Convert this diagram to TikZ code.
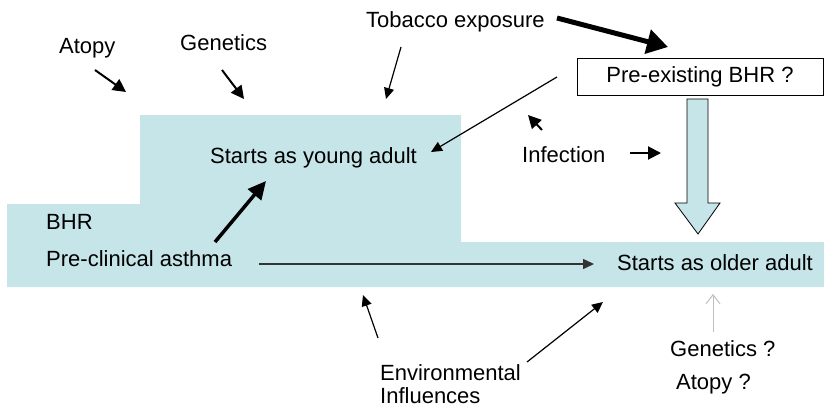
\documentclass[tikz,border=0pt]{standalone}
\usepackage{fontspec}
\setmainfont{Liberation Sans}
\usepackage{tikz}
\usetikzlibrary{arrows.meta}
\definecolor{paleblue}{RGB}{197,229,232}

\tikzset{
  lbl/.style={anchor=base west, inner sep=0pt, font=\fontsize{22}{25}\selectfont},
  thinarr/.style={line width=1.2pt, -{Triangle[length=11pt,width=10pt]}},
  midarr/.style={line width=2pt, -{Triangle[length=13pt,width=13pt]}},
  boldarr/.style={line width=3.5pt, -{Triangle[length=18pt,width=17pt]}},
  fatarr/.style={line width=5pt, -{Triangle[length=21pt,width=24pt]}}
}

\begin{document}
\begin{tikzpicture}[x=1pt,y=-1pt]
\useasboundingbox (0,0) rectangle (824,407);
% stepped background
\fill[paleblue] (7,204) -- (140,204) -- (140,115) -- (461,115) -- (461,242)
  -- (824,242) -- (824,287) -- (7,287) -- cycle;
% block arrow down
\filldraw[fill=paleblue, draw=black, line width=0.8pt] (687,99) -- (708,99) -- (708,203)
  -- (720,203) -- (698,234) -- (675,203) -- (687,203) -- cycle;
% texts
\node[lbl] (atopy) at (59,53) {Atopy};
\node[lbl] (genetics) at (180,50) {Genetics};
\node[lbl] (tobacco) at (366,27) {Tobacco exposure};
\node[draw, line width=0.8pt, fill=white, minimum width=246pt, minimum height=37pt,
  inner sep=0pt, font=\fontsize{22}{25}\selectfont] (prebhr) at (700,76.5) {Pre-existing BHR ?};
\node[lbl] (young) at (210,163) {Starts as young adult};
\node[lbl] (infection) at (522,162) {Infection};
\node[lbl] (bhr) at (46,229) {BHR};
\node[lbl] (preclin) at (46,266) {Pre-clinical asthma};
\node[lbl] (older) at (617,270) {Starts as older adult};
\node[lbl] (env) at (380,380) {Environmental};
\node[lbl] (infl) at (380,403) {Influences};
\node[lbl] (genq) at (670,356) {Genetics ?};
\node[lbl] (atopyq) at (676,389) {Atopy ?};
% arrow ends
\coordinate (a1) at (95,70);   \coordinate (a2) at (126,92);
\coordinate (g1) at (222,70);  \coordinate (g2) at (244,99);
\coordinate (t1) at (401,47);  \coordinate (t2) at (386,99);
\coordinate (t3) at (557,18);  \coordinate (t4) at (668,47);
\coordinate (p1) at (557,77);  \coordinate (p2) at (431,152);
\coordinate (i1) at (542,130); \coordinate (i2) at (528,115);
\coordinate (i3) at (630,153); \coordinate (i4) at (661,153);
\coordinate (y1) at (215,242); \coordinate (y2) at (266,181);
\coordinate (h1) at (259,264); \coordinate (h2) at (594,264);
\coordinate (e1) at (378,338); \coordinate (e2) at (363,295);
\coordinate (e3) at (527,362); \coordinate (e4) at (603,302);
\coordinate (q1) at (713,332); \coordinate (q2) at (713,294);
% arrows
\draw[midarr] (a1) -- (a2);
\draw[midarr] (g1) -- (g2);
\draw[thinarr] (t1) -- (t2);
\draw[fatarr] (t3) -- (t4);
\draw[thinarr] (p1) -- (p2);
\draw[midarr] (i1) -- (i2);
\draw[midarr] (i3) -- (i4);
\draw[boldarr] (y1) -- (y2);
\draw[thinarr, line width=1.5pt, draw=black!80] (h1) -- (h2);
\draw[thinarr] (e1) -- (e2);
\draw[thinarr] (e3) -- (e4);
\draw[black!25, line width=1pt, -{Straight Barb[length=9pt,width=14pt]}] (q1) -- (q2);
\end{tikzpicture}
\end{document}
